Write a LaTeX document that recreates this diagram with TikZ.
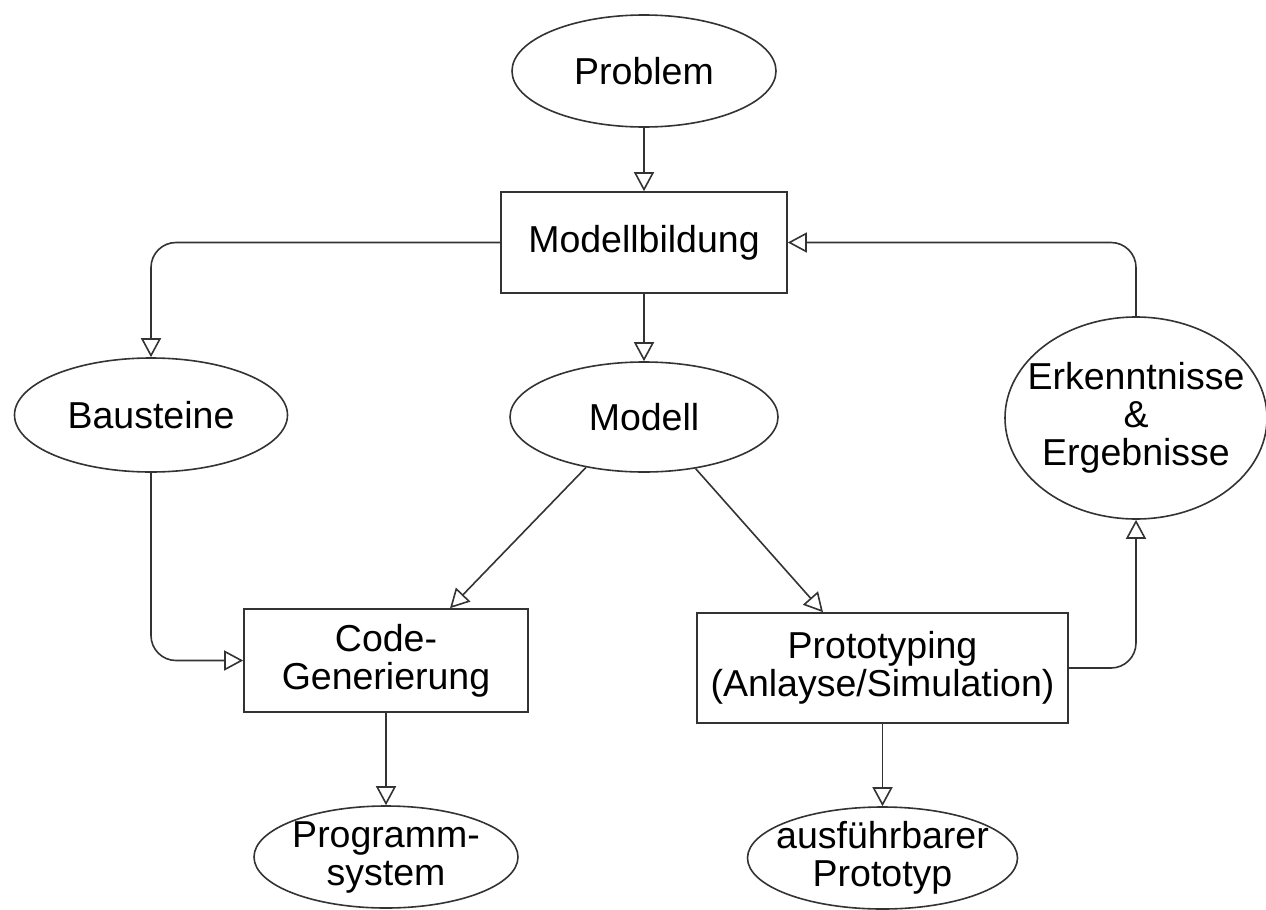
\documentclass[tikz,border=0pt]{standalone}
\usepackage{fontspec}
\setmainfont{Liberation Sans}
\usetikzlibrary{shapes.geometric,arrows.meta}
\begin{document}
\begin{tikzpicture}[x=1pt,y=-1pt,
  every node/.style={font=\fontsize{37.5}{38}\selectfont, align=center, draw=black!80, line width=1.6pt},
  oval/.style={ellipse, inner sep=-20pt},
  box/.style={rectangle, inner sep=0pt},
  arr/.style={draw=black!80, line width=1.6pt, -{Triangle[open, length=19pt, width=20pt]}},
  roundbend/.style={rounded corners=25pt}]
\useasboundingbox (0,0) rectangle (1266,910);

% nodes
\node[oval, minimum width=264pt, minimum height=112pt] (prob) at (644,71) {Problem};
\node[box, minimum width=286pt, minimum height=101pt] (mb) at (644,242.5) {Modellbildung};
\node[oval, minimum width=273pt, minimum height=114pt] (baus) at (151,415) {Bausteine};
\node[oval, minimum width=268pt, minimum height=110pt] (modell) at (644,417) {Modell};
\node[oval, minimum width=262pt, minimum height=202pt] (erk) at (1136,418) {Erkenntnisse\\\&\\Ergebnisse};
\node[box, minimum width=284pt, minimum height=103pt] (code) at (386,660.5) {Code-\\Generierung};
\node[box, minimum width=371pt, minimum height=110pt] (proto) at (882.5,668) {Prototyping\\(Anlayse/Simulation)};
\node[oval, minimum width=264pt, minimum height=102pt] (prog) at (386,857) {Programm-\\system};
\node[oval, minimum width=270pt, minimum height=102pt] (ausf) at (882.5,858) {ausführbarer\\Prototyp};

% connectors
\draw[arr] (prob.south) -- (mb.north);
\draw[arr] (mb.south) -- (modell.north);
\draw[arr, roundbend] (mb.west) -| (baus.north);
\draw[arr, roundbend] (erk.north) |- (mb.east);
\draw[arr, roundbend] (baus.south) |- (code.west);
\draw[arr] (modell.221) -- ([xshift=64pt]code.north);
\draw[arr] (modell.315) -- ([xshift=-59.5pt]proto.north);
\draw[arr, roundbend] (proto.east) -| (erk.south);
\draw[arr] (code.south) -- (prog.north);
\draw[arr] (proto.south) -- (ausf.north);
\end{tikzpicture}
\end{document}
